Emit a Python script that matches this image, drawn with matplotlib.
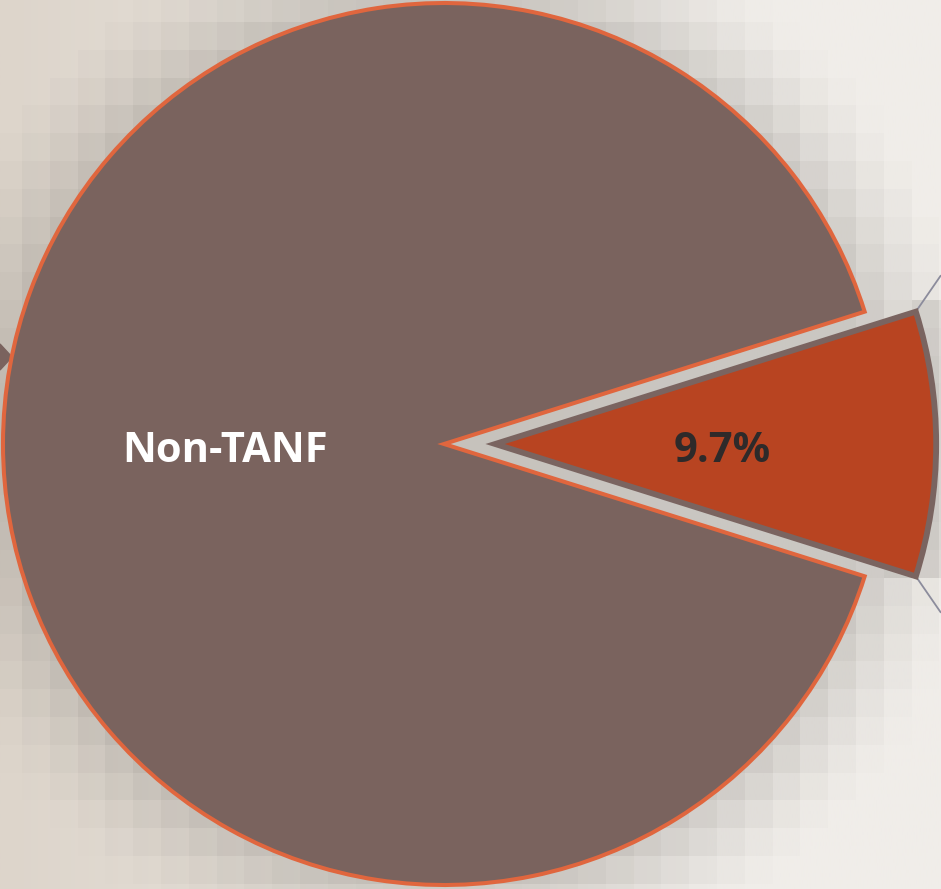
import numpy as np
import matplotlib.pyplot as plt
from matplotlib.colors import to_rgb

labels = ["Non-TANF", "TANF"]
shares = [90.3, 9.7]
colors = ["#7a635e", "#b84421"]
edge_colors = ["#e0663e", "#7a6460"]
explode = [0, 0.116]

W, H = 941, 889
cx, cy, R = 444, 445, 441

fig = plt.figure(figsize=(W / 100, H / 100), dpi=100)
ax = fig.add_axes([0, 0, 1, 1])

# background: warm beige on the left fading to off-white
xs = np.linspace(0, 1, 400)
t = np.clip(xs / 0.75, 0, 1)[None, :, None]
left = np.array(to_rgb("#ddd5cb"))
right = np.array(to_rgb("#f0ede9"))
bg = left * (1 - t) + right * t
ax.imshow(bg, extent=[0, W, 0, H], aspect="auto", zorder=0)

# blocky drop shadow round the pie
startangle = shares[1] / 100 * 180
half = np.radians(shares[1] / 100 * 180)
ex = explode[1] * R
blk = 27.8
gx = np.arange(-5.8, W + blk, blk)
gy = np.arange(H + 5.8, -blk, -blk)
shade = np.zeros((len(gy) - 1, len(gx) - 1))
for i in range(len(gy) - 1):
    for j in range(len(gx) - 1):
        px = (gx[j] + gx[j + 1]) / 2
        py = (gy[i] + gy[i + 1]) / 2
        d = np.hypot(px - cx, py - cy) - R
        sx, sy = px - (cx + ex), py - cy
        if abs(np.arctan2(sy, sx)) < half:
            d = min(d, np.hypot(sx, sy) - R)
        shade[i, j] = max(0.0, 1 - max(d + 8, 0) / 110)
rgba = np.zeros(shade.shape + (4,))
rgba[..., :3] = to_rgb("#8c8882")
rgba[..., 3] = 0.38 * shade ** 1.5
ax.imshow(rgba, extent=[gx[0], gx[-1], gy[-1], gy[0]], aspect="auto",
          interpolation="nearest", zorder=1)

wedges, _ = ax.pie(shares, colors=colors, explode=[e * R for e in explode],
                   startangle=startangle, center=(cx, cy), radius=R, frame=True,
                   wedgeprops=dict(linewidth=2.9, joinstyle="miter"))
for w, ec in zip(wedges, edge_colors):
    w.set_edgecolor(ec)
    w.set_zorder(3)
wedges[1].set_linewidth(4.2)
ax.set_xlim(0, W)
ax.set_ylim(0, H)
ax.axis("off")

# connector lines leading to the breakdown on the right
wx, wy = wedges[1].center
for a in (wedges[1].theta1, wedges[1].theta2):
    x0 = wx + R * np.cos(np.radians(a))
    y0 = wy + R * np.sin(np.radians(a))
    x1 = W
    y1 = y0 + np.sign(np.sin(np.radians(a))) * (x1 - x0) * 1.45
    ax.plot([x0, x1], [y0, y1], color="#8c8c9c", lw=1.3, zorder=2,
            solid_capstyle="butt")

# small marker on the left edge
ax.fill([0, 12, 0], [H - 344, H - 357, H - 370], color="#7a635e", zorder=2)

# labels
for w, lab, val, dist, tc in zip(wedges, labels, shares, [0.497, 0.515],
                                 ["white", "#2e2a2a"]):
    mid = np.radians((w.theta1 + w.theta2) / 2)
    x = w.center[0] + dist * R * np.cos(mid)
    y = w.center[1] + dist * R * np.sin(mid) - 18
    txt = lab if lab == "Non-TANF" else f"{val:.1f}%"
    ax.text(x, y, txt, ha="center", va="baseline", color=tc, fontsize=30,
            fontweight="bold", family="Open Sans", zorder=4)

fig.savefig("out.png", dpi=100)
